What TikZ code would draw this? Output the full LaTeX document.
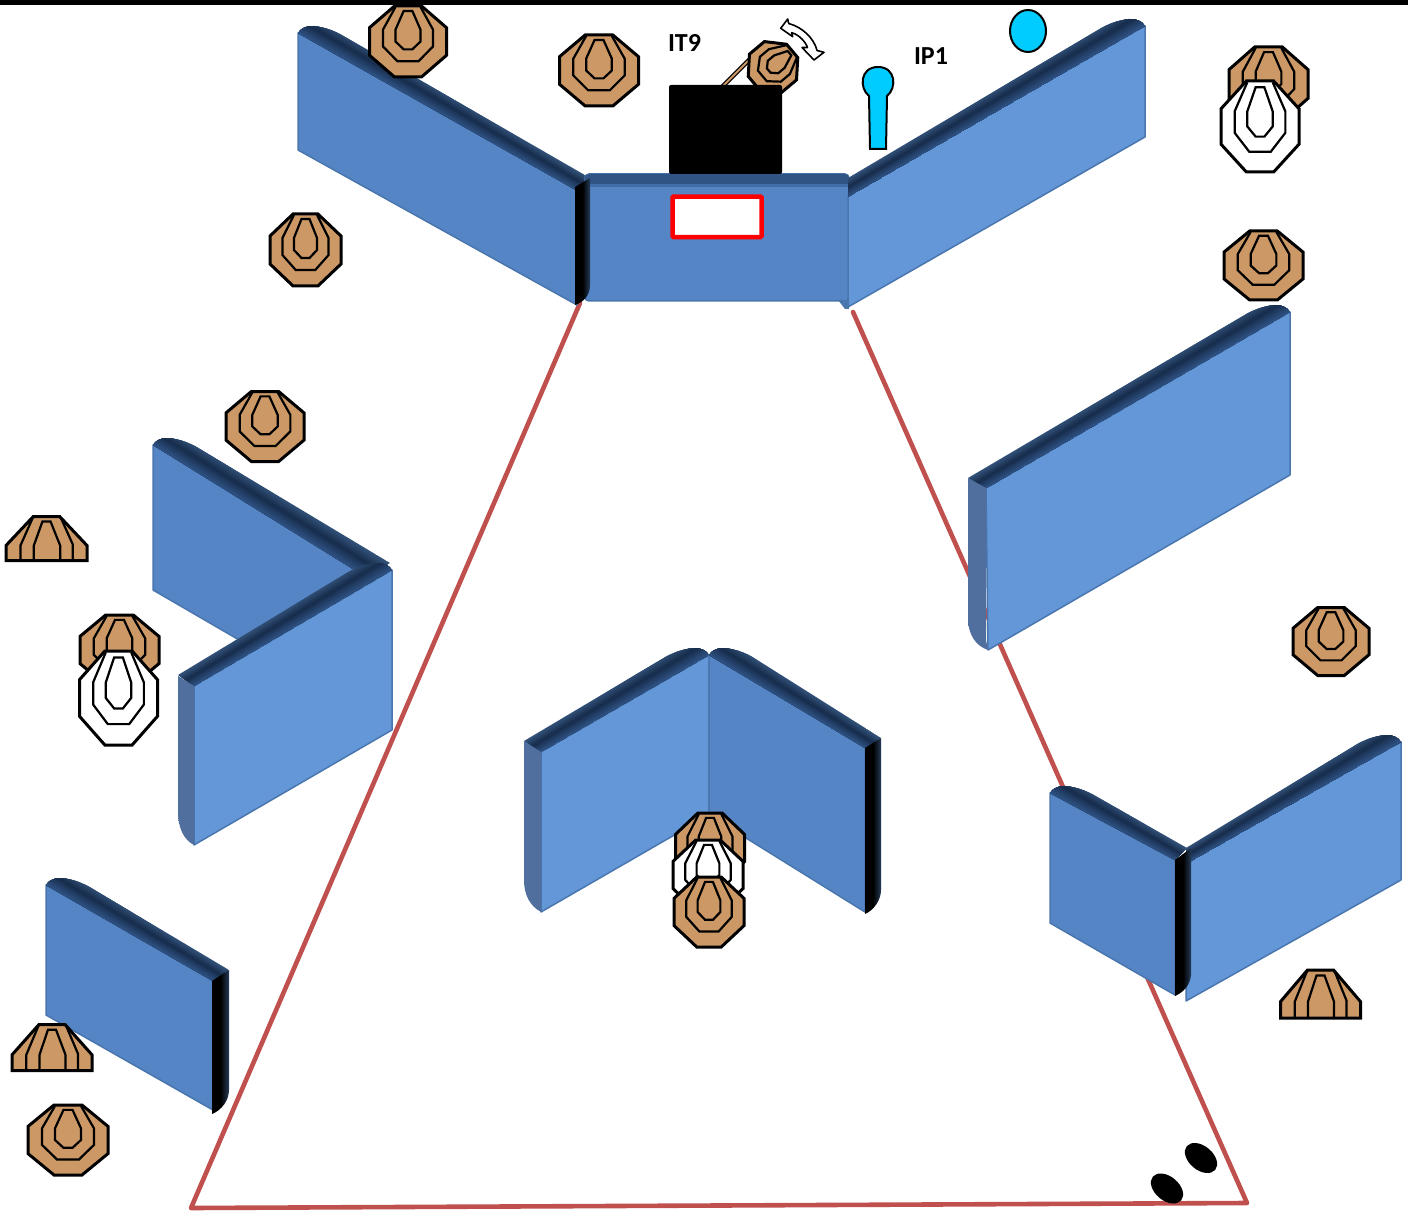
\documentclass[tikz,border=0pt]{standalone}
\usepackage{fontspec}
\setmainfont{Carlito}
\usetikzlibrary{calc,shapes.geometric}
\definecolor{wallD}{HTML}{5585C5}
\definecolor{wallL}{HTML}{6397D8}
\definecolor{wallE}{HTML}{4A76AE}
\definecolor{bandA}{HTML}{33527A}
\definecolor{bandB}{HTML}{172C4B}
\definecolor{bandC}{HTML}{305587}
\definecolor{tgtbrown}{HTML}{CC9966}
\definecolor{redl}{HTML}{C0504D}
\definecolor{cyanp}{HTML}{00CCFF}
\definecolor{sideA}{HTML}{506F9E}
\definecolor{sideB}{HTML}{7388A6}
\tikzset{
  faceD/.style={fill=wallD,draw=wallE,line width=1.5pt,line join=round},
  faceL/.style={fill=wallL,draw=wallE,line width=1.5pt,line join=round},
  endD/.style={left color=black,right color=black!55!wallD,middle color=black},
  endL/.style={left color=sideA,middle color=sideB,right color=sideA},
  tout/.style={line width=3pt,line join=miter,draw=black},
  tin/.style={line width=2.2pt,line join=miter,draw=black},
  redline/.style={draw=redl,line width=4.6pt,line cap=round,line join=round},
  pinshape/.style={fill=cyanp,draw=black,line width=2pt},
  lab/.style={font=\fontsize{26}{26}\selectfont\bfseries,inner sep=0pt}
}
% full target: centre x,y; width, height; fill; rotation
\newcommand\tgt[6]{%
\begin{scope}[shift={(#1,#2)},rotate=#6,xscale=#3/80,yscale=#4/72]
 \fill[#5] (-14,-36)--(14,-36)--(40,-14)--(40,14)--(14,36)--(-14,36)--(-40,14)--(-40,-14)--cycle;
 \draw[tin] (-13,-35)--(-26,-12)--(-26,5)--(-11,20)--(11,20)--(26,5)--(26,-12)--(13,-35);
 \draw[tin] (-4.5,-31)--(4.5,-31)--(13,-12)--(13,0)--(4.5,8)--(-4.5,8)--(-13,0)--(-13,-12)--cycle;
 \draw[tout] (-14,-36)--(14,-36)--(40,-14)--(40,14)--(14,36)--(-14,36)--(-40,14)--(-40,-14)--cycle;
\end{scope}}
% cut target
\newcommand\cuttgt[4]{%
\begin{scope}[shift={(#1,#2)},xscale=#3/80,yscale=#4/44]
 \fill[tgtbrown] (-13,-22)--(13,-22)--(40,7)--(40,22)--(-40,22)--(-40,7)--cycle;
 \draw[tin] (-25.7,22)--(-25.7,7)--(-13,-22);
 \draw[tin] (26,22)--(26,6)--(14,-21);
 \draw[tin] (-12.5,22)--(-12.5,7)--(-4,-17)--(4,-17)--(13.5,7)--(13.5,22);
 \draw[tout] (-13,-22)--(13,-22)--(40,7)--(40,22)--(-40,22)--(-40,7)--cycle;
\end{scope}}
% strips between the outer edge (O1-O2) and the inner edge (I1-I2) of a wall top
\newcommand\strips[8]{%
 \foreach \tv in {0,0.08,...,1.0}{
  \pgfmathsetmacro\pcv{\tv<0.45 ? 100*\tv/0.45 : 100*(\tv-0.45)/0.55}
  \ifdim\tv pt<0.45pt \colorlet{bc}{bandB!\pcv!bandA}\else \colorlet{bc}{bandC!\pcv!bandB}\fi
  \fill[bc] ($(#1,#2)!\tv!(#7,#8)$) -- ($(#3,#4)!\tv!(#5,#6)$) -- (#5,#6) -- (#7,#8) -- cycle;
 }}
% wall top whose free, rounded end is on the left: free corner; outer end; inner end
\newcommand\darkband[6]{%
\begin{scope}
 \pgfmathsetmacro\bxa{#1+3}\pgfmathsetmacro\bya{#2-5}
 \pgfmathsetmacro\bxb{#1+9}\pgfmathsetmacro\byb{#2-7.5}
 \pgfmathsetmacro\bxc{#1+16}\pgfmathsetmacro\byc{#2-7}
 \pgfmathsetmacro\bxd{#1+24}\pgfmathsetmacro\byd{#2-6}
 \pgfmathsetmacro\bxe{#1+32}\pgfmathsetmacro\bye{#2-4}
 \pgfmathsetmacro\bxf{#1+42}\pgfmathsetmacro\byf{#2+1}
 \pgfmathsetmacro\byo{#2-27.5}
 \clip (#1,#2) .. controls (\bxa,\bya) and (\bxb,\byb) .. (\bxc,\byc) .. controls (\bxd,\byd) and (\bxe,\bye) .. (\bxf,\byf) -- (#3,#4) -- (#5,#6) -- cycle;
 \strips{#1}{\byo}{#3}{#4}{#5}{#6}{#1}{#2}
\end{scope}}
% wall top whose free, rounded end is on the right: outer start; inner start; free corner
\newcommand\lightband[6]{%
\begin{scope}
 \pgfmathsetmacro\bxa{#5-3}\pgfmathsetmacro\bya{#6-5}
 \pgfmathsetmacro\bxb{#5-9}\pgfmathsetmacro\byb{#6-7.5}
 \pgfmathsetmacro\bxc{#5-16}\pgfmathsetmacro\byc{#6-7}
 \pgfmathsetmacro\bxd{#5-24}\pgfmathsetmacro\byd{#6-6}
 \pgfmathsetmacro\bxe{#5-32}\pgfmathsetmacro\bye{#6-4}
 \pgfmathsetmacro\bxf{#5-42}\pgfmathsetmacro\byf{#6+1}
 \pgfmathsetmacro\byo{#6-27.5}
 \clip (#5,#6) .. controls (\bxa,\bya) and (\bxb,\byb) .. (\bxc,\byc) .. controls (\bxd,\byd) and (\bxe,\bye) .. (\bxf,\byf) -- (#1,#2) -- (#3,#4) -- cycle;
 \strips{#1}{#2}{#5}{\byo}{#5}{#6}{#3}{#4}
\end{scope}}
\begin{document}
\begin{tikzpicture}[x=1pt,y=-1pt]
\useasboundingbox (0,0) rectangle (1408,1214);
\fill[white] (0,0) rectangle (1408,1214);
\fill[black] (0,0) rectangle (1408,5);

% range lines
\coordinate (rA) at (580,303);
\coordinate (rB) at (191,1208);
\coordinate (rC) at (1247,1203);
\coordinate (rD) at (853,312);
\draw[redline] (rA) -- (rB) -- (rC) -- (rD);

% top-left wall
\draw[faceD] (298,33) -- (577,190) -- (577,305) -- (298,150) -- cycle;
\darkband{298}{33}{590}{178}{576}{190}
% centre back wall
\fill[wallD,draw=wallE,line width=1.5pt,rounded corners=4pt] (585,174) rectangle (849,301);
\fill[bandC!85!bandA,rounded corners=4pt] (585,174) rectangle (849,187);
\fill[bandC!50!wallD] (585,184) rectangle (849,187);
\shade[endD] (575,187) -- (590,178) -- (590,285) .. controls (590,295) and (584,302) .. (575,305) -- cycle;
% top-right wall
\draw[faceL] (848,195) -- (1145,26) -- (1145,137) -- (848,307) -- cycle;
\lightband{848}{178}{848}{197}{1145}{26}
\fill[wallE] (838,300) -- (849,300) -- (849,309) -- (845,309) -- cycle;

% right wall
\draw[faceL] (986,488) -- (1290,312) -- (1290,475) -- (988,650) -- cycle;
\lightband{968}{478}{985}{489}{1290}{312}
\shade[endL] (968,478) -- (986,488) -- (986,640) -- (988,650) .. controls (976,646) and (968,635) .. (968,618) -- cycle;

% left walls
\draw[faceD] (153,445) -- (390,580) -- (390,700) -- (240,640.5) -- (153,590) -- cycle;
\darkband{153}{445}{390}{563}{366}{577}
\draw[faceL] (194,686) -- (392,570) -- (392,730) -- (194,845) -- cycle;
\lightband{178}{675}{194}{686}{392}{570}
\shade[endL] (178,676) -- (194,686) -- (194,845) .. controls (184,840) and (178,828) .. (178,812) -- cycle;

% lower-left wall
\draw[faceD] (46,885) -- (213,981) -- (213,1110) -- (46,1015) -- cycle;
\darkband{46}{885}{229}{970}{213}{981}
\shade[endD] (212,981) -- (229,970) -- (229,1090) .. controls (229,1100) and (222,1110) .. (212,1114) -- cycle;

% centre V wall
\draw[faceL] (541,752) -- (709,655) -- (709,815) -- (541,912) -- cycle;
\lightband{524}{741}{541}{752}{709}{655}
\shade[endL] (524,741) -- (541,752) -- (541,912) .. controls (530,906) and (524,895) .. (524,880) -- cycle;
\draw[faceD] (709,655) -- (865,747) -- (865,912) -- (709,815) -- cycle;
\darkband{709}{655}{881}{738}{865}{748}
\shade[endD] (865,748) -- (881,738) -- (881,890) .. controls (881,900) and (874,910) .. (865,914) -- cycle;

% lower-right walls
\draw[faceL] (1186,862) -- (1401,742) -- (1401,880) -- (1186,1001) -- cycle;
\lightband{1186}{848}{1186}{864}{1401}{742}
\draw[faceD] (1050,793) -- (1175,860) -- (1175,995) -- (1050,923) -- cycle;
\darkband{1050}{793}{1187}{848}{1175}{860}
\shade[endD] (1175,860) -- (1191,848) -- (1191,975) .. controls (1190,985) and (1184,992) .. (1175,996) -- cycle;

% targets
\tgt{408}{41.5}{77}{71}{tgtbrown}{0}
\tgt{599}{70.5}{79}{71}{tgtbrown}{0}
\tgt{305.5}{250}{71}{72}{tgtbrown}{0}
\tgt{1263.5}{265.5}{79}{69}{tgtbrown}{0}
\tgt{265}{426.5}{78}{70}{tgtbrown}{0}
\tgt{1331}{641.5}{76}{68}{tgtbrown}{0}
\tgt{68}{1140}{80}{70}{tgtbrown}{0}
\cuttgt{46.5}{538.5}{81}{44}
\cuttgt{52}{1047.5}{80}{46}
\cuttgt{1320.5}{994}{80}{48}

% left pair
\tgt{119.5}{650}{79}{70}{tgtbrown}{0}
\tgt{118.5}{698}{78}{94}{white}{0}
% top-right pair
\tgt{1268.5}{84}{79}{74}{tgtbrown}{0}
\tgt{1260}{126.5}{78}{91}{white}{0}
% centre stack
\tgt{710}{848}{69}{70}{tgtbrown}{0}
\tgt{708}{875}{70}{70}{white}{0}
\tgt{709}{912}{70}{70}{tgtbrown}{0}

% steel on stand behind the no-shoot box
\coordinate (rodA) at (722,87);
\coordinate (rodB) at (752,57);
\draw[black,line width=4.5pt] (rodA) -- (rodB);
\draw[tgtbrown,line width=2pt] (rodA) -- (rodB);
\tgt{773}{67}{50}{50}{tgtbrown}{-50}
\fill[black,rounded corners=2pt] (669,85) rectangle (782,174);
\node[draw=red,fill=white,line width=4.5pt,minimum width=89pt,minimum height=40.5pt,inner sep=0pt,rounded corners=1pt] (window) at (717,216.8) {};

% swing arrow
\draw[fill=white,draw=black,line width=1.6pt,line join=round]
 (788.7,23.5) -- (787.7,19) -- (780.7,28.3) -- (792.7,36.7) -- (791.7,32.7)
 .. controls (800,35) and (806,43) .. (807.5,47.5) -- (802,47.5) -- (814,60) -- (824,52.3) -- (817,50.5)
 .. controls (814,38) and (802,27) .. cycle;

% poppers
\draw[pinshape] (870,149) -- (869,96) .. controls (859,88) and (860,67) .. (878,67) .. controls (896,67) and (897,88) .. (887,96) -- (886,149) -- cycle;
\node[draw=black,fill=cyanp,line width=2pt,ellipse,minimum width=36pt,minimum height=42pt,inner sep=0pt] (popper) at (1028,31) {};

% labels
\node[lab] (it9) at (684.5,43) {IT9};
\node[lab] (ip1) at (931,56) {IP1};

% feet
\node[fill=black,ellipse,minimum width=37pt,minimum height=24pt,inner sep=0pt,rotate=-40] (footA) at (1201,1158) {};
\node[fill=black,ellipse,minimum width=37pt,minimum height=24pt,inner sep=0pt,rotate=-40] (footB) at (1167,1188.5) {};
\end{tikzpicture}
\end{document}
